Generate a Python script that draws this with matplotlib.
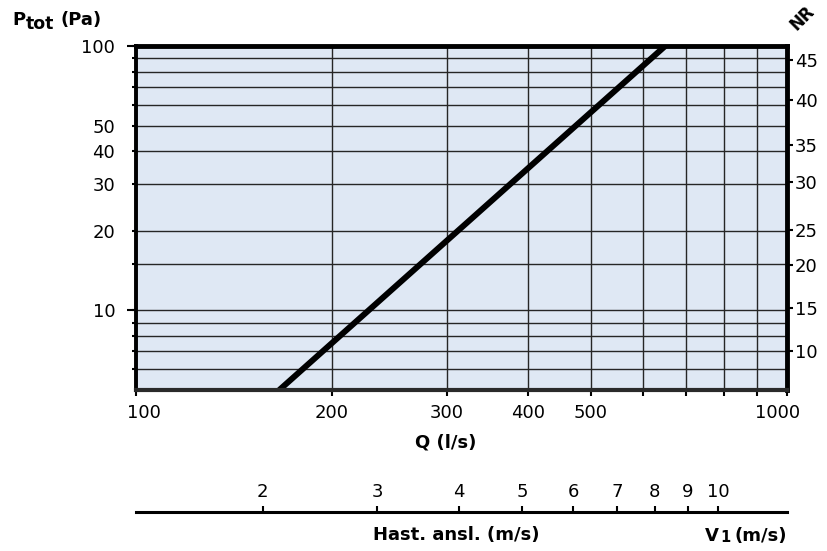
import matplotlib
matplotlib.use("Agg")
import matplotlib.pyplot as plt
from matplotlib.ticker import FixedLocator, FixedFormatter, NullLocator, NullFormatter
from matplotlib.transforms import ScaledTranslation

plt.rcParams["font.family"] = ["DejaVu Sans"]

# Pressure-drop characteristic (Q in l/s, P_tot in Pa)
q_line = [166, 650]
p_line = [5, 100]

# Axis ticks
q_ticks = [100, 200, 300, 400, 500, 600, 700, 800, 900, 1000]
q_labels = ["100", "200", "300", "400", "500", "", "", "", "", "1000"]
p_ticks = [6, 7, 8, 9, 10, 15, 20, 30, 40, 50, 60, 70, 80, 90, 100]
p_labels = ["", "", "", "", "10", "", "20", "30", "40", "50", "", "", "", "", "100"]

# Noise rating scale on the right (NR level vs. pressure position)
nr_levels = [10, 15, 20, 25, 30, 35, 40, 45]
nr_pressure = [7.0, 10.2, 14.9, 20.2, 30.6, 42.3, 62.5, 88.5]

# Inlet velocity scale (V1 = Q / area factor)
v_factor = 78.3
v_ticks = [2, 3, 4, 5, 6, 7, 8, 9, 10]
v_labels = ["2", "3", "4", "5", "6", "7", "8", "9", "10"]

FS = 13
W, H = 827, 551
fig = plt.figure(figsize=(W / 100, H / 100), dpi=100)

left, right, top, bottom = 136, 787, 46, 390
ax = fig.add_axes([left / W, 1 - bottom / H, (right - left) / W, (bottom - top) / H])
ax.set_facecolor("#dfe8f4")
ax.set_xscale("log")
ax.set_yscale("log")
ax.set_xlim(100, 1000)
ax.set_ylim(5, 100)

ax.xaxis.set_major_locator(FixedLocator(q_ticks))
ax.xaxis.set_major_formatter(FixedFormatter(q_labels))
ax.xaxis.set_minor_locator(NullLocator())
ax.yaxis.set_major_locator(FixedLocator(p_ticks))
ax.yaxis.set_major_formatter(FixedFormatter(p_labels))
ax.yaxis.remove_overlapping_locs = False
ax.yaxis.set_minor_locator(FixedLocator([10, 100]))
ax.yaxis.set_minor_formatter(NullFormatter())

ax.grid(True, which="major", color="#262626", lw=1.0)
ax.set_axisbelow(True)

ax.tick_params(axis="x", which="major", direction="out", length=4, width=1.5,
               labelsize=FS, pad=6, color="black")
ax.tick_params(axis="y", which="major", direction="out", length=3, width=1.5,
               labelsize=FS, pad=12, color="black")
ax.tick_params(axis="y", which="minor", direction="out", length=6.5, width=1.5,
               color="black")

for side, lw, col in [("left", 2.8, "black"), ("top", 3.5, "black"),
                      ("right", 3.5, "black"), ("bottom", 3.0, "#2a2a2a")]:
    ax.spines[side].set_linewidth(lw)
    ax.spines[side].set_color(col)
    ax.spines[side].set_zorder(5)

ax.plot(q_line, p_line, color="black", lw=4.3, solid_capstyle="butt", zorder=4)

# Nudge the end labels of the Q axis inwards
xl = ax.get_xticklabels()
xl[0].set_transform(xl[0].get_transform() + ScaledTranslation(6 / 72, 0, fig.dpi_scale_trans))
xl[-1].set_transform(xl[-1].get_transform() + ScaledTranslation(-7 / 72, 0, fig.dpi_scale_trans))

# Right NR axis
axr = ax.twinx()
axr.set_yscale("log")
axr.set_ylim(5, 100)
axr.yaxis.set_major_locator(FixedLocator(nr_pressure))
axr.yaxis.set_major_formatter(FixedFormatter([str(v) for v in nr_levels]))
axr.yaxis.set_minor_locator(NullLocator())
axr.tick_params(axis="y", direction="out", length=4, width=1.5, labelsize=FS, pad=1.5)
for s in axr.spines.values():
    s.set_visible(False)

fig.text(796 / W, 1 - 31 / H, "NR", rotation=45, fontsize=12, fontweight="bold",
         ha="left", va="baseline", rotation_mode="anchor")

# Axis titles
fig.text(12 / W, 1 - 25 / H, "P", fontsize=FS, fontweight="bold", va="baseline")
fig.text(26 / W, 1 - 29 / H, "tot", fontsize=FS - 0.5, fontweight="bold", va="baseline")
fig.text(60 / W, 1 - 25 / H, "(Pa)", fontsize=FS, fontweight="bold", va="baseline")
fig.text(446 / W, 1 - 443 / H, "Q (l/s)", fontsize=FS, fontweight="bold",
         ha="center", va="center")

# Velocity scale below the chart
axv = fig.add_axes([left / W, 1 - 512 / H, (right - left) / W, 0.0001])
axv.patch.set_visible(False)
axv.set_xscale("log")
axv.set_xlim(100 / v_factor, 1000 / v_factor)
axv.xaxis.set_major_locator(FixedLocator(v_ticks))
axv.xaxis.set_major_formatter(FixedFormatter(v_labels))
axv.xaxis.set_minor_locator(NullLocator())
axv.set_yticks([])
for s in ["left", "right", "top"]:
    axv.spines[s].set_visible(False)
axv.spines["bottom"].set_linewidth(2.2)
axv.tick_params(axis="x", direction="in", length=4, width=1.5, bottom=True, top=False,
                labelbottom=False, labeltop=True, labelsize=FS, pad=8)

fig.text(456 / W, 1 - 535 / H, "Hast. ansl. (m/s)", fontsize=FS, fontweight="bold",
         ha="center", va="center")
fig.text(705 / W, 1 - 541 / H, "V", fontsize=FS, fontweight="bold", va="baseline")
fig.text(720 / W, 1 - 542 / H, "1", fontsize=10.5, fontweight="bold", va="baseline")
fig.text(735 / W, 1 - 541 / H, "(m/s)", fontsize=FS, fontweight="bold", va="baseline")

fig.savefig("out.png", dpi=100)
